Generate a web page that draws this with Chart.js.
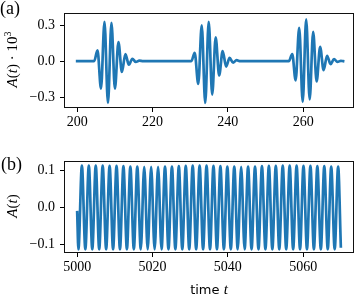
<!DOCTYPE html>
<html><head><meta charset="utf-8">
<script src="https://cdn.jsdelivr.net/npm/chart.js@4"></script>
<style>
html,body{margin:0;padding:0;background:#fff;width:358px;height:296px;overflow:hidden}
canvas{position:absolute;left:0}
#c1{top:0}
#c2{top:148px}
</style></head><body>
<canvas id="c1" width="358" height="148"></canvas>
<canvas id="c2" width="358" height="148"></canvas>
<script>
// Panel (a): time and amplitude (A(t) * 10^3)
const topTime = [200, 204.5, 205.4, 206.32, 207.25, 208.17, 209.1, 210.02, 210.95, 211.87, 212.8, 213.72, 214.65, 215.57, 216.5, 217.5,
  230.3, 231.2, 232.15, 233.07, 234.0, 234.92, 235.85, 236.77, 237.7, 238.62, 239.55, 240.47, 241.4, 242.32, 243.3,
  256.2, 257.1, 258.0, 258.95, 259.88, 260.8, 261.73, 262.65, 263.58, 264.5, 265.43, 266.35, 267.28, 268.2, 269.1, 270.0, 270.6];
const topAmp = [0, 0, 0.09, -0.23, 0.33, -0.35, 0.32, -0.23, 0.16, -0.09, 0.06, -0.03, 0.02, -0.007, 0.004, 0,
  0, 0.07, -0.19, 0.30, -0.35, 0.33, -0.28, 0.20, -0.12, 0.085, -0.045, 0.027, -0.012, 0.008, 0,
  0, 0.06, -0.16, 0.28, -0.34, 0.35, -0.32, 0.245, -0.17, 0.12, -0.075, 0.045, -0.025, 0.018, -0.006, 0.003, 0];

// Panel (b): time and amplitude A(t)
const botTime = [5000.00, 5000.33, 5001.25, 5002.17, 5003.09, 5004.01, 5004.93, 5005.85, 5006.77, 5007.69, 5008.61, 5009.53, 5010.45,
  5011.36, 5012.28, 5013.20, 5014.12, 5015.04, 5015.96, 5016.88, 5017.80, 5018.72, 5019.64, 5020.56, 5021.48, 5022.40, 5023.32,
  5024.24, 5025.16, 5026.07, 5026.99, 5027.91, 5028.83, 5029.75, 5030.67, 5031.59, 5032.51, 5033.43, 5034.35, 5035.27, 5036.19,
  5037.11, 5038.03, 5038.95, 5039.87, 5040.79, 5041.71, 5042.62, 5043.54, 5044.46, 5045.38, 5046.30, 5047.22, 5048.14, 5049.06,
  5049.98, 5050.90, 5051.82, 5052.74, 5053.66, 5054.58, 5055.50, 5056.42, 5057.34, 5058.26, 5059.17, 5060.09, 5061.01, 5061.93,
  5062.85, 5063.77, 5064.69, 5065.61, 5066.53, 5067.45, 5068.37, 5069.29, 5070.00];
const botAmp = [-0.013, -0.113, 0.113, -0.113, 0.113, -0.113, 0.113, -0.113, 0.113, -0.113, 0.112, -0.113, 0.112,
  -0.113, 0.111, -0.113, 0.110, -0.113, 0.110, -0.113, 0.109, -0.113, 0.109, -0.113, 0.109, -0.113, 0.110,
  -0.113, 0.110, -0.113, 0.111, -0.113, 0.112, -0.113, 0.113, -0.113, 0.113, -0.113, 0.113, -0.113, 0.112,
  -0.113, 0.111, -0.113, 0.110, -0.113, 0.110, -0.113, 0.109, -0.113, 0.110, -0.113, 0.110, -0.113, 0.111,
  -0.113, 0.112, -0.113, 0.112, -0.113, 0.113, -0.113, 0.113, -0.113, 0.113, -0.113, 0.112, -0.113, 0.112,
  -0.113, 0.111, -0.113, 0.111, -0.113, 0.110, -0.113, 0.110, -0.105];

const topXTicks = [200, 220, 240, 260];
const topYTicks = [-0.3, 0, 0.3];
const botXTicks = [5000, 5020, 5040, 5060];
const botYTicks = [-0.1, 0, 0.1];

const SERIF = "'Liberation Serif', 'Times New Roman', serif";
Chart.defaults.font.family = SERIF;
Chart.defaults.font.size = 14;
Chart.defaults.color = '#000';
const tickFont = {family: SERIF, size: 14};
const fmtY = v => (v < 0 ? '\u2212' : '') + Math.abs(v).toFixed(1);

const boxPlugin = {
  id: 'box',
  afterDraw(chart) {
    const a = chart.chartArea, ctx = chart.ctx;
    ctx.save();
    ctx.strokeStyle = '#111';
    ctx.lineWidth = 1;
    ctx.strokeRect(Math.round(a.left) + 0.5, Math.round(a.top) + 0.5, Math.round(a.right - a.left) - 1, Math.round(a.bottom - a.top) - 1);
    ctx.restore();
  }
};

const textPlugin = {
  id: 'texts',
  afterDraw(chart, args, opts) {
    const ctx = chart.ctx;
    (opts.items || []).forEach(it => {
      ctx.save();
      ctx.translate(it.x, it.y);
      if (it.rot) ctx.rotate(it.rot);
      ctx.fillStyle = '#000';
      ctx.textBaseline = 'alphabetic';
      ctx.textAlign = 'left';
      let w = 0;
      it.runs.forEach(r => { ctx.font = r.font; w += ctx.measureText(r.t).width; });
      let x = it.align === 'center' ? -w / 2 : 0;
      it.runs.forEach(r => { ctx.font = r.font; ctx.fillText(r.t, x, r.dy || 0); x += ctx.measureText(r.t).width; });
      ctx.restore();
    });
  }
};

function makeChart(id, times, amps, xr, yr, xt, yt, padTop, xAxisH, texts) {
  return new Chart(document.getElementById(id), {
    type: 'line',
    data: {
      datasets: [{
        data: times.map((t, i) => ({x: t, y: amps[i]})),
        borderColor: '#1f77b4',
        borderWidth: 2.7,
        pointRadius: 0,
        fill: false,
        cubicInterpolationMode: 'monotone',
        borderCapStyle: 'square',
        borderJoinStyle: 'round'
      }]
    },
    options: {
      responsive: false,
      animation: false,
      devicePixelRatio: 1,
      layout: {padding: {top: padTop, right: 4, left: 0, bottom: 0}},
      plugins: {legend: {display: false}, tooltip: {enabled: false}, texts: {items: texts}},
      scales: {
        x: {
          type: 'linear', min: xr[0], max: xr[1],
          afterBuildTicks: s => { s.ticks = xt.map(v => ({value: v})); },
          afterFit: s => { s.height = xAxisH; },
          ticks: {font: tickFont, color: '#000', padding: 2, maxRotation: 0, autoSkip: false, callback: v => String(v)},
          grid: {display: true, drawOnChartArea: false, drawTicks: true, tickLength: 4, tickColor: '#000', tickWidth: 1},
          border: {display: false}
        },
        y: {
          type: 'linear', min: yr[0], max: yr[1],
          afterBuildTicks: s => { s.ticks = yt.map(v => ({value: v})); },
          afterFit: s => { s.width = 64; },
          ticks: {font: tickFont, color: '#000', padding: 5, autoSkip: false, callback: fmtY},
          grid: {display: true, drawOnChartArea: false, drawTicks: true, tickLength: 4, tickColor: '#000', tickWidth: 1},
          border: {display: false}
        }
      }
    },
    plugins: [boxPlugin, textPlugin]
  });
}

const it14 = 'italic 15px ' + SERIF, up14 = '15px ' + SERIF;

makeChart('c1', topTime, topAmp, [196.5, 273.5], [-0.392, 0.4], topXTicks, topYTicks, 11, 40, [
  {x: 0, y: 14, runs: [{t: '(a)', font: '18px ' + SERIF}]},
  {x: 17, y: 59.5, rot: -Math.PI / 2, align: 'center', runs: [
    {t: 'A', font: it14}, {t: '(', font: up14}, {t: 't', font: it14}, {t: ')', font: up14},
    {t: ' \u00b7 10', font: up14}, {t: '3', font: '10px ' + SERIF, dy: -6}]}
]);

makeChart('c2', botTime, botAmp, [4996.5, 5073.5], [-0.123, 0.124], botXTicks, botYTicks, 8, 43, [
  {x: 1, y: 21.5, runs: [{t: '(b)', font: '18px ' + SERIF}]},
  {x: 17, y: 58, rot: -Math.PI / 2, align: 'center', runs: [
    {t: 'A', font: it14}, {t: '(', font: up14}, {t: 't', font: it14}, {t: ')', font: up14}]},
  {x: 209, y: 146, align: 'center', runs: [
    {t: 'time ', font: '13px "DejaVu Sans", sans-serif'}, {t: 't', font: it14}]}
]);
</script>
</body></html>
